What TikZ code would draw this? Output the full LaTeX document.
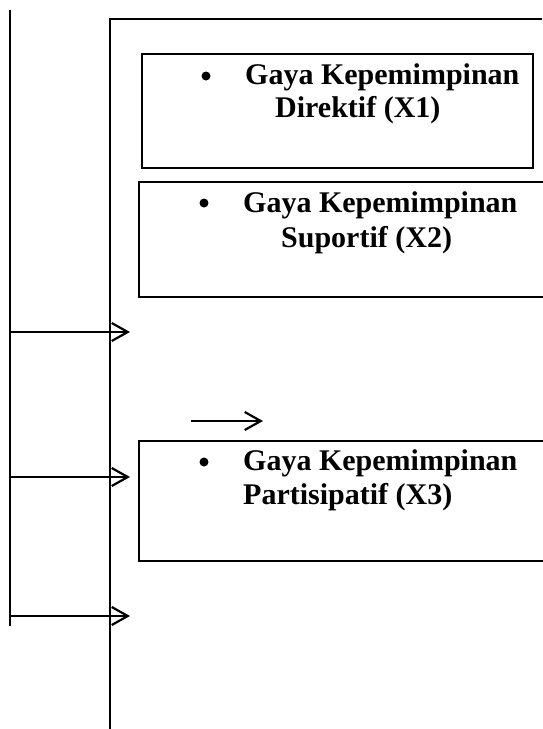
\documentclass[tikz,border=0pt]{standalone}
\usepackage{fontspec}
\setmainfont{Liberation Serif}
\usetikzlibrary{arrows.meta}
\begin{document}
\begin{tikzpicture}[x=1pt,y=-1pt,
  line/.style={line width=2.2pt},
  box/.style={draw,line width=2.2pt,rectangle,inner sep=0pt,anchor=north west},
  lbl/.style={anchor=base west,inner sep=0pt,font=\fontsize{30}{34}\selectfont\bfseries},
  dot/.style={circle,fill,inner sep=0pt,minimum size=9pt},
  arr/.style={line width=2.2pt,-{Straight Barb[length=16pt,width=18pt]}}]
\useasboundingbox (0,0) rectangle (542,729);
% boxes
\node[box,minimum width=391pt,minimum height=114pt] (b1) at (141,53) {};
\node[box,minimum width=420pt,minimum height=115pt] (b2) at (138,181) {};
\node[box,minimum width=420pt,minimum height=120pt] (b3) at (138,440) {};
% texts
\node[dot] (b1dot) at (206,76) {};
\node[lbl] (b1t1) at (245,84) {Gaya Kepemimpinan};
\node[lbl] (b1t2) at (275,117) {Direktif (X1)};
\node[dot] (b2dot) at (204,203) {};
\node[lbl] (b2t1) at (243,212) {Gaya Kepemimpinan};
\node[lbl] (b2t2) at (281,247) {Suportif (X2)};
\node[dot] (b3dot) at (204,462) {};
\node[lbl] (b3t1) at (243,470) {Gaya Kepemimpinan};
\node[lbl] (b3t2) at (243,504) {Partisipatif (X3)};
% lines
\coordinate (ltop) at (10,10);
\coordinate (lbot) at (10,626);
\draw[line] (ltop) -- (lbot);
\coordinate (oright) at (542,19);
\coordinate (ocorner) at (110,19);
\coordinate (obot) at (110,729);
\draw[line] (oright) -- (ocorner) -- (obot);
% arrows
\coordinate (a1s) at (10,332);  \coordinate (a1e) at (130,332);
\coordinate (a2s) at (10,477);  \coordinate (a2e) at (130,477);
\coordinate (a3s) at (10,616);  \coordinate (a3e) at (130,616);
\coordinate (a4s) at (191,421); \coordinate (a4e) at (263,421);
\draw[arr] (a1s) -- (a1e);
\draw[arr] (a2s) -- (a2e);
\draw[arr] (a3s) -- (a3e);
\draw[arr] (a4s) -- (a4e);
\end{tikzpicture}
\end{document}
